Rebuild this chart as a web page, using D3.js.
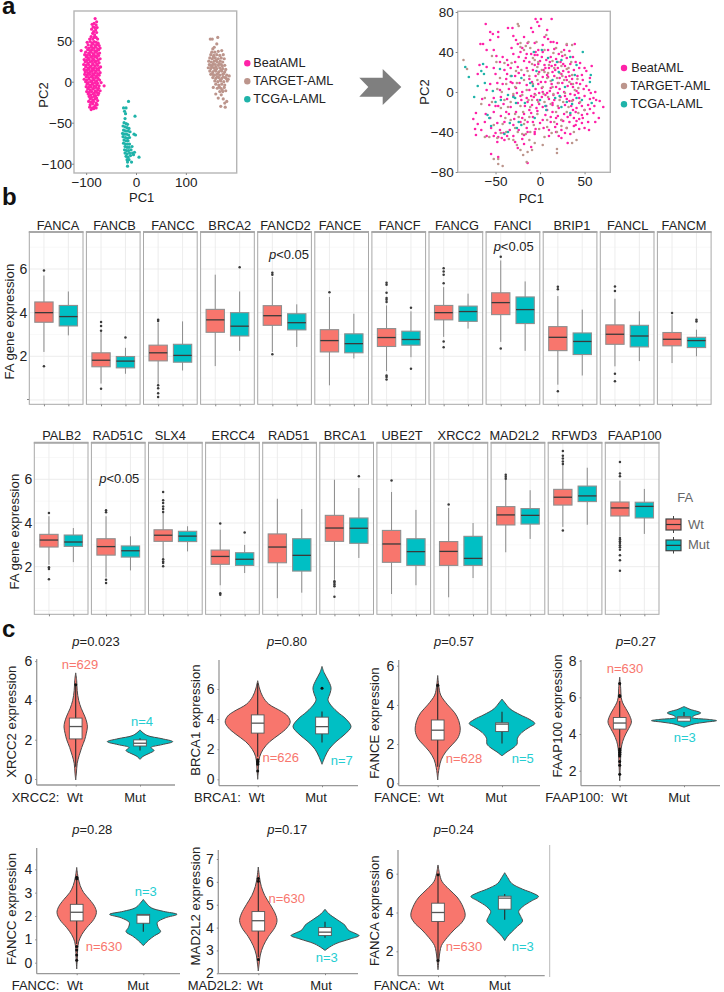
<!DOCTYPE html>
<html><head><meta charset="utf-8">
<script src="https://d3js.org/d3.v7.min.js"></script>
<style>html,body{margin:0;padding:0;background:#fff}svg{display:block}text{font-family:'Liberation Sans',Arial,sans-serif}</style>
</head><body><svg id="fig" width="724" height="992" viewBox="0 0 724 992"></svg>
<script>
// ---------- Panel a data ----------
const groupNames = ["BeatAML","TARGET-AML","TCGA-LAML"];
const groupColors = ["#ff22a8","#bc958c","#1fb3a9"];
const pcaBeat = [[-82,77],[-79,73],[-84,71],[-88,70],[-80,69],[-86,67],[-83,66],[-78,66],[-89,64],[-81,63],[-85,61],[-79,60],[-87,59],[-83,57],[-90,55],[-84,54],[-80,54],[-93,52],[-87,52],[-77,52],
[-98,48],[-92,49],[-88,47],[-84,49],[-80,48],[-76,47],[-96,45],[-90,44],[-86,46],[-82,44],[-78,45],[-74,44],[-100,42],[-94,41],[-89,42],[-85,41],[-81,42],[-77,40],[-72,41],
[-110,38],[-97,39],[-92,38],[-88,39],[-83,38],[-79,37],[-75,39],[-101,36],[-95,35],[-90,36],[-86,34],[-82,36],[-77,34],[-73,35],[-103,33],[-98,32],[-93,33],[-88,31],[-84,33],[-80,31],[-75,32],
[-100,30],[-96,29],[-91,30],[-87,28],[-83,30],[-78,29],[-72,28],[-104,27],[-99,26],[-94,27],[-89,25],[-85,27],[-81,25],[-76,26],[-102,24],[-97,23],[-92,24],[-87,22],[-83,24],[-79,22],[-74,23],
[-105,21],[-100,20],[-95,21],[-90,19],[-86,21],[-82,19],[-77,20],[-71,18],[-101,18],[-96,17],[-92,18],[-88,16],[-84,17],[-79,16],[-74,17],[-104,15],[-99,14],[-94,15],[-89,13],[-85,14],[-80,13],[-75,14],
[-102,12],[-97,11],[-92,12],[-87,10],[-82,11],[-77,10],[-72,11],[-103,9],[-98,8],[-93,9],[-88,7],[-84,8],[-79,7],[-74,8],[-100,6],[-95,5],[-90,6],[-86,4],[-81,5],[-76,4],[-104,3],[-99,2],[-94,3],[-89,1],[-84,2],[-79,1],[-73,2],
[-101,0],[-96,-1],[-91,0],[-87,-2],[-82,-1],[-77,-2],[-70,-1],[-98,-3],[-93,-4],[-88,-3],[-84,-5],[-79,-4],[-74,-5],[-64,-5],[-100,-6],[-95,-7],[-90,-6],[-85,-8],[-80,-7],[-75,-8],[-97,-9],[-92,-10],[-87,-9],[-82,-11],[-77,-10],[-72,-11],
[-99,-12],[-94,-13],[-89,-12],[-84,-14],[-79,-13],[-75,-14],[-96,-15],[-91,-16],[-86,-15],[-81,-17],[-76,-16],[-94,-18],[-89,-19],[-84,-18],[-79,-20],[-92,-21],[-87,-22],[-82,-21],[-77,-23],[-95,-24],[-90,-25],[-85,-24],[-80,-26],[-92,-28],[-87,-27],[-82,-29],[-78,-28],[-93,-31],[-88,-32],[-84,-31],[-80,-32],[-90,-34],[-85,-33]];
const pcaTarget = [[149,52],[153,52],[164,54],[162,46],[154,40],[157,42],[172,38],[152,36],[158,36],[165,37],[150,33],[156,32],[162,33],[168,32],[175,33],[148,29],[153,28],[159,29],[165,28],[171,29],[177,28],
[146,25],[151,24],[157,25],[163,24],[169,25],[174,24],[147,21],[153,20],[159,21],[165,20],[171,21],[178,20],[145,17],[150,16],[156,17],[162,16],[168,17],[174,16],[180,15],[148,13],[154,12],[160,13],[166,12],[172,13],[178,12],
[150,9],[156,8],[162,9],[168,8],[174,9],[182,8],[187,7],[154,5],[160,4],[166,5],[172,4],[179,5],[185,3],[158,1],[164,0],[170,1],[176,0],[183,1],[160,-3],[166,-4],[172,-3],[178,-4],[155,-7],[163,-8],[170,-8],[177,-7],[168,-12],[174,-12],[180,-11],[160,-15],[171,-16],[165,-20],[175,-21],[182,-24],[178,-26],[170,-30],[179,-31],
[155,30],[161,26],[167,22],[152,18],[158,14],[164,10],[170,14],[176,10],[157,8],[163,6],[169,2],[175,6],[155,22],[149,20],[160,18],[173,19],[153,10],[181,4],[167,-6],[173,-10]];
const pcaTcga = [[-15,-24],[-25,-32],[-20,-32],[-23,-36],[-21,-39],[-2,-42],[-22,-45],[-24,-50],[-20,-51],[-17,-52],[-26,-54],[-22,-55],[-18,-56],[-14,-57],[-25,-59],[-21,-60],[-16,-60],[-12,-61],[-27,-63],[-23,-64],[-19,-64],[-15,-65],[-4,-64],[-1,-65],[-26,-67],[-21,-68],[-17,-69],[-13,-68],[-24,-71],[-20,-72],[-16,-72],[-25,-75],[-21,-76],[-17,-76],[-13,-76],[-22,-79],[-18,-80],[-14,-80],[-8,-79],[-23,-83],[-19,-84],[-15,-84],[-10,-83],[-22,-87],[-18,-88],[-13,-87],[-7,-87],[-3,-86],[-20,-91],[-16,-92],[-11,-90],[-5,-89],[6,-92],[-18,-95],[-14,-95],[-9,-98],[-17,-98],[-17,-103]];
const tsneBeat = [[-61,68],[-5,73],[1,73],[13,73],[-3,70],[-1,66],[-56,60],[-47,60],[-53,58],[-47,55],[-56,52],[-36,64],[-31,64],[-10,64],[-8,60],[8,62],[5,55],[9,53],[-67,48],[-64,48],[-60,42],[-52,42],[-30,56],[-27,52],[-18,55],[-25,48],[-32,44],[-20,44],[-14,49],[-6,49],[3,47],[15,50],[12,50],[19,49],[30,47],[39,48],
[-49,36],[-42,35],[-37,32],[-30,38],[-24,35],[-15,38],[-10,38],[-5,40],[-3,37],[2,35],[7,32],[12,35],[18,33],[25,36],[30,34],[37,35],[40,30],[-45,30],[-36,27],[-28,30],[-18,31],[-12,30],[-2,28],[5,27],[11,30],[17,27],[23,30],[28,26],[34,28],[45,29],[50,24],[58,26],
[-68,27],[-60,25],[-52,24],[-40,22],[-33,24],[-25,25],[-15,24],[-8,22],[-1,20],[4,22],[10,24],[14,20],[20,24],[26,21],[32,20],[38,22],[44,24],[52,21],[-70,18],[-50,18],[-37,18],[-28,16],[-18,17],[-5,16],[3,15],[9,15],[16,16],[22,14],[29,15],[36,13],[42,16],[48,12],[56,14],
[-56,8],[-48,9],[-42,8],[-33,10],[-23,9],[-15,7],[-9,10],[-2,8],[6,10],[13,8],[18,5],[25,9],[31,6],[37,5],[45,8],[52,6],[-60,2],[-45,2],[-35,3],[-27,4],[-20,0],[-12,2],[-5,3],[-1,-1],[3,0],[6,-3],[11,1],[20,-1],[27,0],[34,-2],[41,1],[55,2],[57,-1],[62,0],
[-65,-7],[-52,-6],[-44,-5],[-37,-7],[-30,-4],[-22,-4],[-15,-6],[-7,-5],[2,-5],[10,-7],[16,-8],[23,-5],[30,-7],[37,-8],[44,-6],[50,-4],[56,-7],[63,-8],[67,-9],[-57,-13],[-47,-14],[-41,-12],[-33,-15],[-25,-11],[-17,-14],[-9,-13],[-1,-12],[7,-14],[14,-13],[21,-16],[28,-13],[35,-14],[41,-16],[47,-14],[54,-13],[61,-14],[71,-15],
[-72,-21],[-61,-22],[-52,-20],[-44,-24],[-35,-22],[-27,-20],[-18,-22],[-10,-21],[-3,-19],[6,-23],[14,-20],[20,-24],[27,-22],[34,-23],[40,-20],[47,-23],[53,-22],[60,-21],[66,-26],[-75,-27],[-70,-32],[-62,-30],[-48,-31],[-40,-30],[-30,-33],[-22,-30],[-8,-30],[0,-31],[3,-28],[12,-30],[19,-32],[26,-29],[33,-30],[41,-29],[47,-31],[54,-30],[62,-30],
[-73,-37],[-66,-38],[-55,-36],[-45,-38],[-34,-38],[-24,-38],[-15,-36],[-5,-37],[10,-38],[17,-35],[24,-38],[30,-36],[38,-34],[44,-37],[50,-36],[55,-38],[-72,-43],[-60,-44],[-52,-44],[-47,-45],[-43,-46],[-30,-44],[-18,-43],[-6,-42],[10,-44],[21,-44],[28,-41],[34,-42],[-48,-50],[-40,-48],[-28,-50],[-25,-56],[-18,-52],[-10,-55],[-6,-40],[31,-51],[-55,-62],[-47,-65],[-14,-71],
[-2,42],[-6,37],[0,31],[6,24],[13,26],[17,22],[24,18],[30,12],[35,8],[12,4],[15,-3],[22,3],[28,-4],[33,-9],[39,-3],[44,-11],[50,-18],[37,-18],[31,-25],[24,-28],[18,-26],[38,-26],[44,-27],[8,-1],[2,4],[-3,-8],[-6,-2],[-10,-4],[-14,-10],[-21,-8],[-26,-1],[-31,9],[-38,13],[-24,19],[-12,13],[-6,27],[-16,34],[-22,40],[3,40],[9,42],[16,43],[21,38],[27,42],[33,41],[20,9],[14,-11],[8,-18],[3,-15],[-4,-16],[-12,-18],[-20,-26],[-29,-27],[-38,-20],[-50,-14],[-56,-26],[-41,-41],[-37,-44],[-50,-41],[-20,-47],[-14,-40],[18,-40],[24,-46],[40,-33],[48,-26],[56,-17],[60,-6],[49,3],[43,-1],[47,17],[33,16],[41,9],[26,28],[8,17],[1,10],[-8,-25],[-14,-30],[4,-36],[12,-25]];
const tsneTarget = [[-86,32],[-82,23],[-54,36],[-49,30],[-25,68],[-24,66],[-22,49],[-13,50],[-4,50],[7,57],[30,48],[36,47],[15,39],[-6,32],[2,22],[9,19],[32,24],[36,17],[21,9],[28,-1],[39,2],[9,-5],[-9,-8],[-11,-15],[-24,-25],[-17,-28],[-7,-33],[-39,-26],[-52,-33],[-62,-45],[-57,-45],[-52,-67],[-47,-72],[-42,-74],[-47,-67],[-26,-53],[-22,-58],[-19,-63],[-15,-70],[-9,-58],[-6,-51],[19,-57],[19,-61],[36,-51],[41,-48],[13,-41],[19,-40],[24,-28],[43,-21],[-36,-15],[-26,9],[-21,22],[-32,29],[-45,14],[-43,0],[-62,-6],
[-18,42],[-9,28],[-2,30],[5,42],[18,44],[24,40],[10,27],[16,24],[22,19],[27,12],[33,10],[43,4],[3,5],[-3,12],[-12,16],[-18,12],[-30,-2],[-38,8],[15,-2],[5,-10],[-15,2],[-22,-14],[-28,-22],[-44,-16],[-33,-28],[-42,-32],[-38,-40],[-12,-25],[-3,-22],[8,-28],[20,-14],[30,-20],[36,-9],[24,-34],[5,-45],[-16,-42],[-28,-36],
[-22,45],[-16,46],[-11,44],[-8,34],[-3,25],[5,20],[8,14],[12,11],[19,14],[25,16],[30,23],[24,26],[35,30],[20,30],[28,37],[14,31],[-2,18],[-14,21],[-27,21],[-33,16],[-40,29],[-48,3],[-54,-10],[-66,-12],[-33,-10],[-20,-3],[-13,-8],[-5,-3],[4,-2],[-2,-10],[12,-12],[18,-20],[26,-10],[32,-15],[16,-30],[8,-35],[-1,-37],[-11,-40],[-20,-42],[-30,-48],[-18,-32],[-25,-40],[-44,-41],[-48,-46],[-35,-47],[3,-53],[-14,-60],[-12,-48],[30,-36],[38,-40],[45,-10],[50,-18],[37,8],[42,13],[14,5],[22,-8],[-8,8],[-19,-20],[-40,-8],[-28,5]];
const tsneTcga = [[-84,25],[-80,15],[-70,6],[-74,-5],[-64,28],[-63,18],[-62,9],[-53,1],[-66,21],[-45,23],[-32,16],[-59,-23],[-55,-34],[-40,-42],[-36,-40],[-50,-10],[-36,-3],[-27,-11],[-7,40],[2,42],[48,40],[56,10],[57,17],[41,27],[24,32],[34,35],[9,34],[21,20],[14,12],[28,5],[17,-6],[24,-15],[34,-21],[47,-8],[58,-11],[41,-6],[-6,-26],[7,-18],[0,-8],[-11,9],[-21,14],[-17,-11],[-34,-31],[-21,-33],[39,17],[-28,-6],[-57,-26],[-30,-5],[-8,6],[6,-14],[-4,21],[19,30],[30,-10],[36,-12],[22,-4],[-24,-30],[-44,-8],[-26,-36]];

// ---------- Panel b data ----------
const rowOneGenes = ["FANCA","FANCB","FANCC","BRCA2","FANCD2","FANCE","FANCF","FANCG","FANCI","BRIP1","FANCL","FANCM"];
const rowTwoGenes = ["PALB2","RAD51C","SLX4","ERCC4","RAD51","BRCA1","UBE2T","XRCC2","MAD2L2","RFWD3","FAAP100"];
// five-number summaries: whisker low, Q1, median, Q3, whisker high
const rowOneWt = [[2.2,3.56,4.0,4.49,5.7],[.75,1.52,1.82,2.16,3.12],[.74,1.79,2.16,2.51,3.54],[1.55,3.1,3.67,4.15,5.74],[2.2,3.42,3.86,4.32,5.63],[.67,2.2,2.72,3.22,4.72],[1.32,2.45,2.86,3.27,4.33],[2.89,3.67,4.0,4.33,5.17],[2.66,3.91,4.46,4.91,6.39],[.7,2.26,2.87,3.36,4.76],[1.54,2.55,3.01,3.44,4.64],[1.69,2.48,2.78,3.09,3.88]];
const rowOneMut = [[2.96,3.39,3.82,4.33,4.97],[1.2,1.47,1.78,1.99,2.39],[1.35,1.73,2.04,2.55,3.6],[2.25,2.93,3.38,4.0,4.97],[2.43,3.21,3.54,3.95,4.38],[1.9,2.16,2.58,3.03,3.95],[1.96,2.51,2.77,3.15,4.06],[3.27,3.6,4.05,4.3,4.87],[2.25,3.5,4.14,4.72,5.43],[1.12,2.08,2.68,3.07,4.14],[1.78,2.43,2.93,3.42,4.06],[2.0,2.4,2.72,2.87,3.22]];
const rowOneWtOut = [[5.93,1.54],[3.57,3.39,3.17,.51],[3.68,3.62,.67,.54,.31,.13],[],[5.83,5.74,2.09],[4.94],[5.37,5.28,4.91,4.67,4.59,4.49,1.12,1.05,.94],[6.04,5.89,5.74,5.35,2.68,2.42],[6.56,2.36],[5.19,5.07,.4],[5.2,4.99,1.2,.86],[3.98]];
const rowOneMutOut = [[],[2.86],[],[6.08],[],[],[4.23,1.43],[],[],[],[],[3.68,3.6]];
const rowTwoWt = [[2.09,2.9,3.22,3.48,4.31],[1.51,2.53,2.92,3.28,4.31],[2.4,3.16,3.44,3.69,4.46],[1.15,2.11,2.47,2.76,3.69],[.56,2.18,2.9,3.5,5.11],[1.4,3.16,3.77,4.35,5.98],[.75,2.2,3.04,3.66,5.42],[.6,2.06,2.7,3.15,4.69],[2.66,3.91,4.37,4.75,5.98],[3.82,4.82,5.18,5.54,6.67],[3.39,4.32,4.69,4.96,5.94]];
const rowTwoMut = [[2.21,2.93,3.13,3.45,3.77],[1.83,2.44,2.73,2.95,3.39],[2.7,3.15,3.4,3.62,3.85],[1.71,2.06,2.34,2.64,3.0],[.81,1.8,2.52,3.28,4.64],[2.4,3.07,3.76,4.23,5.6],[1.15,2.06,2.69,3.28,4.6],[1.48,2.06,2.38,3.39,4.0],[3.27,3.95,4.35,4.66,5.5],[3.92,4.98,5.24,5.69,6.53],[3.5,4.23,4.76,4.95,5.56]];
const rowTwoWtOut = [[4.46,1.97,1.89,1.42],[4.58,4.49,1.4,1.25],[5.42,5.04,4.92,4.76,4.64,4.5,2.34,2.24,2.17,2.02],[3.98,.78,.72],[],[1.33,1.26,1.18,1.1,.63],[5.95],[4.85],[6.21,6.12,6.03],[7.3,7.08,6.95,6.82,6.7,3.66],[6.79,6.26,6.14,3.31,3.24,3.16,3.08,2.98,2.89,2.78,2.52,2.29,1.82]];
const rowTwoMutOut = [[],[],[],[3.56],[],[6.14],[],[],[],[],[]];
const rowOneLabelX = [58,114.5,173,229.7,285.5,340,399.7,457,512.7,572,627.7,684];
const rowTwoLabelX = [61.7,117.7,170.3,233.3,288.7,345,402,459.3,514.3,574.3,634.7];
const expressionTicks = [2,4,6];
const faLevels = ["Wt","Mut"];
const faColors = ["#F8766D","#00BFC4"];

// ---------- Panel c data: [expression, density] profile ----------
const violinGenes = ["XRCC2","BRCA1","FANCE","FAAP100","FANCC","MAD2L2","FANCA"];
const violinP = ["0.023","0.80","0.57","0.27","0.28","0.17","0.24"];
const violinNWt = [629,626,628,630,630,630,630];
const violinNMut = [4,7,5,3,3,3,3];
const densWt = [
 [[5.4,0],[5,1],[4.5,1.5],[4,3],[3.6,5.5],[3.2,9],[2.9,11],[2.65,11.7],[2.3,10.5],[2,9],[1.6,6],[1.2,3.5],[.8,1.5],[.3,.7],[-.05,0]],
 [[6.55,0],[6,2],[5.5,5],[5,11],[4.5,24],[4.2,30],[3.8,32.5],[3.4,29],[3,22],[2.5,12],[2,5.5],[1.5,2],[1,1],[.5,.5],[0,0]],
 [[5.5,0],[5,1],[4.5,3],[4,10],[3.6,17],[3.2,21],[2.7,22.5],[2.3,20],[2,15],[1.6,8],[1.2,3.5],[.8,1.5],[.5,.6],[.17,0]],
 [[7.1,0],[6.5,1],[6,1.5],[5.7,3],[5.4,6],[5,10],[4.65,11.7],[4.3,9],[4,6],[3.6,3],[3.2,1.5],[2.5,.8],[1.45,0]],
 [[4.08,0],[3.7,1.2],[3.3,3.5],[3,7],[2.7,13],[2.4,18],[2.15,19.7],[1.85,17],[1.5,10],[1.2,5],[.9,2],[.6,1],[.2,.6],[-.27,0]],
 [[6.65,0],[6.2,1.2],[5.8,3],[5.4,6.5],[5,12],[4.6,17],[4.3,18.7],[4,16.5],[3.6,10],[3.2,5],[2.8,2],[2.4,.8],[2.1,0]],
 [[6.45,0],[6,1.5],[5.6,4],[5.2,11],[4.8,19],[4.4,24],[3.85,27.2],[3.5,24],[3.1,16],[2.7,9],[2.3,3.5],[2,2],[1.6,1],[1.05,0]]];
const densMut = [
 [[2.5,0],[2.35,3],[2.2,8],[2.05,22],[1.9,32.7],[1.75,22],[1.6,11],[1.45,14],[1.3,9],[1.15,3],[1,0]],
 [[7.5,0],[7.1,2],[6.6,6],[6.1,9],[5.7,8],[5.3,6],[5,8],[4.5,15],[4,24],[3.5,29],[3,23],[2.5,14],[2,7],[1.5,3],[1,0]],
 [[4.3,0],[4.1,3],[3.8,8],[3.5,18],[3.25,28],[3.05,32.8],[2.85,27],[2.6,20],[2.3,15.5],[2,15],[1.8,11],[1.6,5],[1.4,0]],
 [[5.5,0],[5.35,6],[5.15,16.7],[5,10],[4.9,8],[4.8,24],[4.73,32.5],[4.65,22],[4.55,10],[4.45,4],[4.37,0]],
 [[2.71,0],[2.55,3],[2.35,8],[2.2,20],[2.07,33.7],[1.92,22],[1.72,14],[1.5,15],[1.33,17.3],[1.15,11],[.95,5],[.73,0]],
 [[4.8,0],[4.6,4],[4.35,12],[4.1,20],[3.9,23],[3.75,30],[3.65,34],[3.5,25],[3.3,11],[3.1,3],[3,0]],
 [[6.05,0],[5.8,3],[5.5,7],[5.2,18],[5,28],[4.82,33.8],[4.6,27],[4.3,18],[4.05,14],[3.8,16],[3.55,17.8],[3.3,13],[3,7],[2.75,2.5],[2.55,0]]];
const violinBoxWt = [[.62,2.04,2.67,3.1,4.8],[1.5,3.07,3.73,4.28,6.4],[.85,2.21,2.71,3.23,5],[3.3,4.27,4.6,4.9,5.8],[.8,1.79,2.16,2.5,3.6],[2.7,3.85,4.3,4.7,6],[1.55,3.54,4,4.48,5.9]];
const violinBoxMut = [[1.45,1.68,1.82,1.99,2.07],[2.45,3.02,3.5,4.13,4.5],[2.03,2.64,3.02,3.09,3.65],[4.7,4.7,4.88,4.95,5.2],[1.33,1.69,2.04,2.07,2.07],[3.55,3.65,3.8,4,4.25],[3.62,4.17,4.74,4.84,4.96]];
const violinOutWt = [[4.8],[.55,1,1.1,1.2,1.3],[5],[6.75,6.1,6.05,3.2,3.1,3,2.9,2.8,2.5,2.3,1.8],[3.66,3.6,.69,.54,.33,.11],[6.15,6.03,2.6],[5.94,1.53]];
const violinOutMut = [[],[6.05],[],[],[],[],[]];
const violinTicks = [[0,2,4,6],[0,2,4,6],[0,2,4,6],[2,4,6,8],[0,1,2,3,4],[2,3,4,5,6,7],[2,4,6]];

// ---------- Layout (pixels, kept apart from the values) ----------
const svg = d3.select("#fig");
const INK = "#222";
function label(x,y,str,o={}){
  const t = svg.append("text").attr("x",x).attr("y",y).attr("dominant-baseline","central")
    .attr("text-anchor",o.anchor||"middle").attr("font-size",o.size||13).attr("fill",o.fill||INK)
    .attr("font-weight",o.weight||null).text(str);
  if(o.rotate) t.attr("transform",`rotate(-90 ${x} ${y})`);
  return t;
}
function pLabel(x,y,rest){
  const t = svg.append("text").attr("x",x).attr("y",y).attr("dominant-baseline","central")
    .attr("text-anchor","middle").attr("font-size",13).attr("fill",INK);
  t.append("tspan").attr("font-style","italic").text("p");
  t.append("tspan").text(rest);
}
function styleAxis(g,color,size){
  g.select(".domain").remove();
  g.selectAll(".tick line").attr("stroke",color||"#888");
  g.selectAll(".tick text").attr("fill",INK).attr("font-size",size||13).attr("font-family","'Liberation Sans',Arial,sans-serif");
}
// Panel letters
[["a",2,14],["b",2,205],["c",2,636.5]].forEach(([s,x,y])=>{
  svg.append("text").attr("x",x).attr("y",y).attr("font-size",24).attr("font-weight","bold").attr("fill","#111").text(s);
});

// Scatter panels
function scatter(cfg){
  const x = d3.scaleLinear().domain(cfg.xDom).range([cfg.l,cfg.r]);
  const y = d3.scaleLinear().domain(cfg.yDom).range([cfg.b,cfg.t]);
  cfg.series.forEach((pts,i)=>{
    svg.append("g").selectAll("circle").data(pts).join("circle")
      .attr("cx",d=>x(d[0])).attr("cy",d=>y(d[1])).attr("r",cfg.r0).attr("fill",groupColors[i]);
  });
  svg.append("rect").attr("x",cfg.l).attr("y",cfg.t).attr("width",cfg.r-cfg.l).attr("height",cfg.b-cfg.t)
    .attr("fill","none").attr("stroke","#b5b5b5").attr("stroke-width",1.4);
  const ax = svg.append("g").attr("transform",`translate(0,${cfg.b})`)
    .call(d3.axisBottom(x).tickValues(cfg.xTicks).tickSize(2).tickPadding(2).tickFormat(d3.format("d")));
  const ay = svg.append("g").attr("transform",`translate(${cfg.l},0)`)
    .call(d3.axisLeft(y).tickValues(cfg.yTicks).tickSize(2).tickPadding(cfg.yPad).tickFormat(d3.format("d")));
  [ax,ay].forEach(g=>styleAxis(g,"#888",13.5));
  label(cfg.pc1[0],cfg.pc1[1],"PC1");
  label(cfg.pc2[0],cfg.pc2[1],"PC2",{rotate:true});
  groupNames.forEach((n,i)=>{
    svg.append("circle").attr("cx",cfg.legX).attr("cy",cfg.legY[i]).attr("r",3.2).attr("fill",groupColors[i]);
    label(cfg.legT[i],cfg.legY[i],n,{anchor:"start",size:12.7});
  });
}
scatter({l:74,r:236.7,t:11,b:173,xDom:[-124.4,202],yDom:[-111.3,86.2],r0:1.6,xTicks:[-100,0,100],yTicks:[-100,-50,0,50],yPad:0,
  series:[pcaBeat,pcaTarget,pcaTcga],pc1:[141.7,197.3],pc2:[43.3,95],legX:247.3,legY:[63.3,81.3,99.3],legT:[253.3,253.3,253.3]});
scatter({l:457.7,r:610.3,t:11.3,b:172.3,xDom:[-92.5,78.9],yDom:[-80.3,80.7],r0:1.3,xTicks:[-50,0,50],yTicks:[-80,-40,0,40,80],yPad:2,
  series:[tsneBeat,tsneTarget,tsneTcga],pc1:[531.3,198.3],pc2:[424.7,92],legX:624,legY:[68,86,104.3],legT:[631.3,630.3,630.3]});
// Arrow
svg.append("polygon").attr("points","359.3,77.7 382.7,77.7 382.7,69 401.3,87 382.7,105 382.7,96.7 359.3,96.7 368.3,87").attr("fill","#7f7f7f");

// Facet boxplots
const FACET_W = 53.7, FACET_STEP = 57.1;
function facetRow(cfg){
  const y = d3.scaleLinear().domain([2,6]).range([cfg.y2,cfg.y6]);
  const cat = d3.scalePoint().domain(faLevels).range([0,FACET_W]).padding(0.6);
  const boxW = cat.step()*0.75;
  cfg.genes.forEach((gene,i)=>{
    const g = svg.append("g").attr("transform",`translate(${cfg.x0+i*FACET_STEP},0)`);
    [1,3,5,7].forEach(v=>g.append("line").attr("x1",0).attr("x2",FACET_W).attr("y1",y(v)).attr("y2",y(v)).attr("stroke","#f3f3f3").attr("stroke-width",.6));
    [0,2,4,6].forEach(v=>g.append("line").attr("x1",0).attr("x2",FACET_W).attr("y1",y(v)).attr("y2",y(v)).attr("stroke","#ebebeb").attr("stroke-width",.9));
    faLevels.forEach(l=>g.append("line").attr("x1",cat(l)).attr("x2",cat(l)).attr("y1",cfg.t).attr("y2",cfg.b).attr("stroke","#ebebeb").attr("stroke-width",.9));
    faLevels.forEach((lev,k)=>{
      const s = (k?cfg.mut:cfg.wt)[i], out = (k?cfg.mutOut:cfg.wtOut)[i], cx = cat(lev);
      g.append("line").attr("x1",cx).attr("x2",cx).attr("y1",y(s[0])).attr("y2",y(s[4])).attr("stroke","#8c8c8c").attr("stroke-width",1);
      g.append("rect").attr("x",cx-boxW/2).attr("width",boxW).attr("y",y(s[3])).attr("height",y(s[1])-y(s[3]))
        .attr("fill",faColors[k]).attr("stroke","#8f8f8f").attr("stroke-width",1.1);
      g.append("line").attr("x1",cx-boxW/2).attr("x2",cx+boxW/2).attr("y1",y(s[2])).attr("y2",y(s[2])).attr("stroke","#3a3a3a").attr("stroke-width",1.3);
      g.selectAll(null).data(out).join("circle").attr("cx",cx).attr("cy",d=>y(d)).attr("r",1.25).attr("fill","#3a3a3a");
    });
    g.append("rect").attr("x",0).attr("y",cfg.t).attr("width",FACET_W).attr("height",cfg.b-cfg.t).attr("fill","none").attr("stroke","#a8a8a8").attr("stroke-width",1);
    g.append("line").attr("x1",-.5).attr("x2",FACET_W+.5).attr("y1",cfg.t).attr("y2",cfg.t).attr("stroke","#a8a8a8").attr("stroke-width",2);
    const ax = g.append("g").attr("transform",`translate(0,${cfg.b})`).call(d3.axisBottom(cat).tickSize(2).tickFormat(""));
    styleAxis(ax);
    label(cfg.labelX[i],cfg.labelY,gene,{size:12.8});
  });
  const ay = svg.append("g").attr("transform",`translate(${cfg.x0},0)`)
    .call(d3.axisLeft(y).tickValues(expressionTicks).tickSize(0).tickPadding(cfg.tickPad).tickFormat(d3.format("d")));
  styleAxis(ay,"#888",14);
  label(cfg.titleX,cfg.titleY,"FA gene expression",{rotate:true,size:13.2});
}
facetRow({x0:29.3,t:232,b:404.3,y2:356.3,y6:269,genes:rowOneGenes,wt:rowOneWt,mut:rowOneMut,wtOut:rowOneWtOut,mutOut:rowOneMutOut,labelX:rowOneLabelX,labelY:225.7,titleX:10,titleY:321.7,tickPad:2});
facetRow({x0:34.3,t:442.7,b:614.3,y2:566.7,y6:479.3,genes:rowTwoGenes,wt:rowTwoWt,mut:rowTwoMut,wtOut:rowTwoWtOut,mutOut:rowTwoMutOut,labelX:rowTwoLabelX,labelY:435.3,titleX:15,titleY:531.7,tickPad:2});
svg.append("line").attr("x1",29).attr("x2",27).attr("y1",399.5).attr("y2",399.5).attr("stroke","#888");
pLabel(289,254,"<0.05"); pLabel(513.7,245.7,"<0.05"); pLabel(119.3,478.3,"<0.05");
// Facet legend
label(685.3,497.3,"FA",{fill:"#666"});
[[519,530,516,533],[540,550.7,537,553.5]].forEach((r,k)=>{
  svg.append("line").attr("x1",673.5).attr("x2",673.5).attr("y1",r[2]).attr("y2",r[3]).attr("stroke","#444");
  svg.append("rect").attr("x",666).attr("y",r[0]).attr("width",15).attr("height",r[1]-r[0]).attr("fill",faColors[k]).attr("stroke","#444").attr("stroke-width",1.2);
  svg.append("line").attr("x1",666).attr("x2",681).attr("y1",(r[0]+r[1])/2).attr("y2",(r[0]+r[1])/2).attr("stroke","#333").attr("stroke-width",1.2);
  label(688,k?544:524,faLevels[k],{anchor:"start",fill:"#666"});
});

// Violin panels
const vLayout = [
 {ax:36.7,r:175,top:659,bot:785,wtX:75.7,mutX:140,tv:[0,2],tp:[779,739.7],tx:11.7,ty:721.7,pX:96,pY:640.7,nW:[80,664],nM:[142,721],pre:11.7,wLab:75,mLab:135,labY:797.7},
 {ax:219,r:358,top:660,bot:785.7,wtX:257.7,mutX:322,tv:[0,6],tp:[779.3,689],tx:195,ty:720,pX:287,pY:640.7,nW:[280.7,757],nM:[341.7,760],pre:194,wLab:256.8,mLab:316,labY:797.7},
 {ax:398.7,r:540,top:660,bot:785.7,wtX:437.7,mutX:502,tv:[0,6],tp:[783.3,665.7],tx:374.7,ty:723,pX:454,pY:641,nW:[464,758],nM:[522.7,758],pre:374,wLab:436,mLab:496,labY:797.7},
 {ax:581,r:720,top:660,bot:785.7,wtX:619.7,mutX:684,tv:[2,8],tp:[770.7,660.7],tx:557,ty:716,pX:636,pY:641,nW:[625,668],nM:[684.7,737],pre:545.3,wLab:619.5,mLab:679,labY:797.7},
 {ax:36.7,r:180,top:848,bot:973.7,wtX:76.7,mutX:143.3,tv:[0,4],tp:[962.7,869.3],tx:11.7,ty:909,pX:92.3,pY:829,nW:[104,946],nM:[145.7,891],pre:11.7,wLab:75,mLab:138,labY:985},
 {ax:218.3,r:358,top:850,bot:973.7,wtX:258.3,mutX:325,tv:[2,7],tp:[973.3,859],tx:195,ty:906,pX:287.3,pY:829,nW:[286.7,898],nM:[326.7,957.7],pre:187.7,wLab:255,mLab:321,labY:985},
 {ax:398,r:544.7,top:850,bot:975.7,wtX:438,mutX:504.7,tv:[2,6],tp:[951.3,873.7],tx:374.7,ty:910.7,pX:453.7,pY:829,nW:[464,946],nM:[522.7,946],pre:373.7,wLab:436,mLab:499.7,labY:985}];
const widthScale = d3.scaleLinear().domain([0,34]).range([0,34]);
const BOX_W = 12.7;
violinGenes.forEach((gene,i)=>{
  const L = vLayout[i];
  const y = d3.scaleLinear().domain(L.tv).range(L.tp);
  const x = d3.scalePoint().domain(faLevels).range([L.wtX,L.mutX]);
  faLevels.forEach((lev,k)=>{
    const cx = x(lev), dens = (k?densMut:densWt)[i], s = (k?violinBoxMut:violinBoxWt)[i], out=(k?violinOutMut:violinOutWt)[i];
    const area = d3.area().y(d=>y(d[0])).x0(d=>cx-widthScale(d[1])).x1(d=>cx+widthScale(d[1])).curve(d3.curveCatmullRom.alpha(.5));
    svg.append("path").attr("d",area(dens)).attr("fill",faColors[k]).attr("stroke","#4a4a4a").attr("stroke-width",1);
    svg.append("line").attr("x1",cx).attr("x2",cx).attr("y1",y(s[0])).attr("y2",y(s[4])).attr("stroke","#2a2a2a").attr("stroke-width",1.1);
    svg.append("g").selectAll("circle").data(out).join("circle").attr("cx",cx).attr("cy",d=>y(d)).attr("r",1.5).attr("fill","#111");
    svg.append("rect").attr("x",cx-BOX_W/2).attr("width",BOX_W).attr("y",y(s[3])).attr("height",y(s[1])-y(s[3])).attr("fill","#fff").attr("stroke","#555").attr("stroke-width",.9);
    svg.append("line").attr("x1",cx-BOX_W/2).attr("x2",cx+BOX_W/2).attr("y1",y(s[2])).attr("y2",y(s[2])).attr("stroke","#555").attr("stroke-width",1.3);
  });
  svg.append("line").attr("x1",L.ax).attr("x2",L.ax).attr("y1",L.top).attr("y2",L.bot).attr("stroke","#999").attr("stroke-width",1.3);
  svg.append("line").attr("x1",L.ax).attr("x2",L.r).attr("y1",L.bot).attr("y2",L.bot).attr("stroke","#999").attr("stroke-width",1.3);
  const ay = svg.append("g").attr("transform",`translate(${L.ax},0)`)
    .call(d3.axisLeft(y).tickValues(violinTicks[i]).tickSize(1.5).tickPadding(3).tickFormat(d3.format("d")));
  styleAxis(ay,"#888",14);
  const ax = svg.append("g").attr("transform",`translate(0,${L.bot})`).call(d3.axisBottom(x).tickSize(1.5).tickFormat(""));
  styleAxis(ax);
  label(L.tx,L.ty,gene+" expression",{rotate:true,size:13.2});
  pLabel(L.pX,L.pY,"="+violinP[i]);
  label(L.nW[0],L.nW[1],"n="+violinNWt[i],{fill:"#f8766d"});
  label(L.nM[0],L.nM[1],"n="+violinNMut[i],{fill:"#25cdd1"});
  label(L.pre,L.labY,gene+":",{anchor:"start"});
  label(L.wLab,L.labY,faLevels[0]);
  label(L.mLab,L.labY,faLevels[1]);
});
svg.append("line").attr("x1",549.7).attr("x2",549.7).attr("y1",845).attr("y2",977).attr("stroke","#bbb").attr("stroke-width",1);
</script></body></html>
